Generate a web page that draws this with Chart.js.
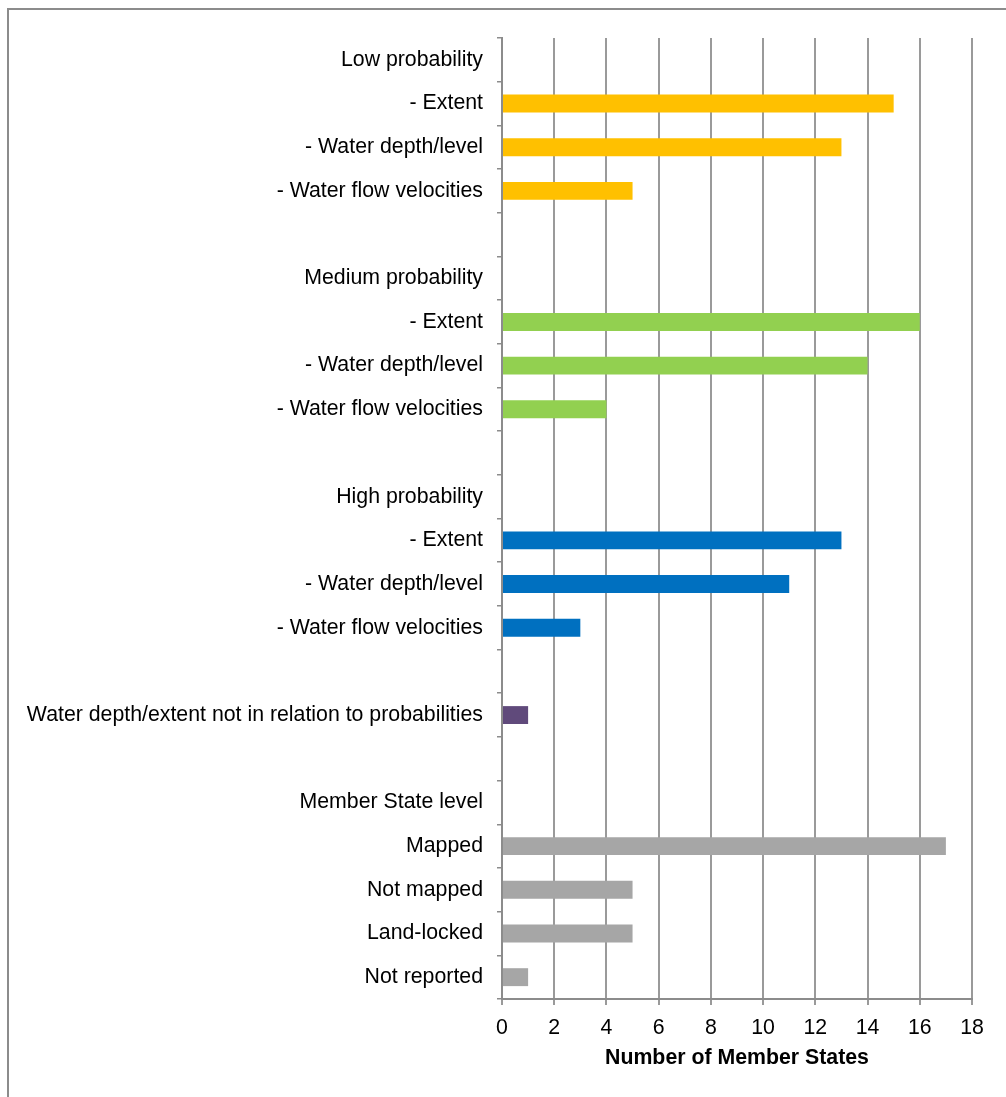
<!DOCTYPE html>
<html>
<head>
<meta charset="utf-8">
<script src="https://cdn.jsdelivr.net/npm/chart.js@4/dist/chart.umd.min.js"></script>
<style>
  html, body { margin: 0; padding: 0; background: #fff; overflow: hidden; }
  .frame {
    position: absolute; left: 7px; top: 8px;
    width: 1100px; height: 1200px;
    border: 2px solid #8c8c8c;
  }
  .wrap { position: absolute; left: 0; top: 0; width: 1006px; height: 1097px; }
</style>
</head>
<body>
<div class="frame"></div>
<div class="wrap"><canvas id="mapChart"></canvas></div>
<script>
// Categories top to bottom ('' = empty spacer row)
const categories = [
  'Low probability', '- Extent', '- Water depth/level', '- Water flow velocities', '',
  'Medium probability', '- Extent', '- Water depth/level', '- Water flow velocities', '',
  'High probability', '- Extent', '- Water depth/level', '- Water flow velocities', '',
  'Water depth/extent not in relation to probabilities', '',
  'Member State level', 'Mapped', 'Not mapped', 'Land-locked', 'Not reported'
];

// Number of Member States per row
const values = [
  null, 15, 13, 5, null,
  null, 16, 14, 4, null,
  null, 13, 11, 3, null,
  1, null,
  null, 17, 5, 5, 1
];

// Which group each row belongs to
const groups = [
  'low', 'low', 'low', 'low', '',
  'medium', 'medium', 'medium', 'medium', '',
  'high', 'high', 'high', 'high', '',
  'other', '',
  'ms', 'ms', 'ms', 'ms', 'ms'
];

const xTicks = [0, 2, 4, 6, 8, 10, 12, 14, 16, 18];

const groupColors = {
  low: '#FFC000',
  medium: '#92D050',
  high: '#0070C0',
  other: '#604A7B',
  ms: '#A6A6A6',
  '': '#ffffff'
};

Chart.defaults.font.family = 'Arial, "Liberation Sans", sans-serif';
Chart.defaults.font.size = 21.3;
Chart.defaults.color = '#000';

const ctx = document.getElementById('mapChart');
new Chart(ctx, {
  type: 'bar',
  data: {
    labels: categories,
    datasets: [{
      data: values,
      backgroundColor: groups.map(g => groupColors[g]),
      barPercentage: 0.41,
      categoryPercentage: 1.0,
    }],
  },
  options: {
    indexAxis: 'y',
    responsive: true,
    maintainAspectRatio: false,
    animation: false,
    layout: {
      padding: { top: 38, right: 34, left: 0, bottom: 0 },
    },
    plugins: {
      legend: { display: false },
      tooltip: { enabled: false },
    },
    scales: {
      y: {
        afterFit: (scale) => { scale.width = 502; },
        grid: {
          drawOnChartArea: false,
          drawTicks: true,
          tickLength: 5,
          color: '#8c8c8c',
          lineWidth: 1.5,
        },
        border: { display: true, color: '#8c8c8c', width: 2 },
        ticks: {
          padding: 14,
          autoSkip: false,
          font: { size: 21.3 },
        },
      },
      x: {
        min: 0,
        max: 18,
        afterFit: (scale) => { scale.height = 98; },
        afterBuildTicks: (scale) => { scale.ticks = xTicks.map(v => ({ value: v })); },
        grid: {
          color: '#9a9a9a',
          lineWidth: 2,
          tickLength: 6,
        },
        border: { display: true, color: '#8c8c8c', width: 2 },
        ticks: {
          padding: 10,
          font: { size: 21.3 },
        },
        title: {
          display: true,
          text: 'Number of Member States',
          font: { size: 21.3, weight: 'bold' },
          padding: { top: 4, bottom: 26 },
        },
      },
    },
  },
});
</script>
</body>
</html>
